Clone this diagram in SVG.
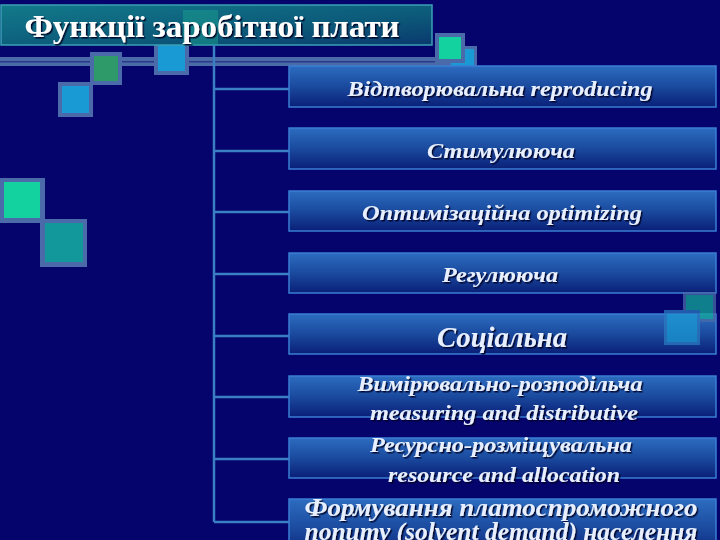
<svg xmlns="http://www.w3.org/2000/svg" width="720" height="540" viewBox="0 0 720 540">
<defs>
<linearGradient id="boxg" x1="0" y1="0" x2="0" y2="1">
<stop offset="0" stop-color="#2c6cc0"/>
<stop offset="0.5" stop-color="#1a4a9e"/>
<stop offset="1" stop-color="#0a1f78"/>
</linearGradient>
<linearGradient id="titleg" x1="0" y1="0" x2="1" y2="1">
<stop offset="0" stop-color="#127a8a"/>
<stop offset="0.6" stop-color="#0c5a7a"/>
<stop offset="1" stop-color="#0a3a6e"/>
</linearGradient>
<filter id="sh" x="-5%" y="-20%" width="110%" height="140%">
<feDropShadow dx="1.5" dy="1.5" stdDeviation="0.6" flood-color="#000020" flood-opacity="0.9"/>
</filter>
</defs>
<style>
.box{fill:url(#boxg);stroke:#3a7ed4;stroke-width:1.5}
.bt{font-family:"Liberation Serif","DejaVu Serif",serif;font-style:italic;font-weight:bold;font-size:22px;fill:#e8f0ff;text-anchor:middle;filter:url(#sh)}
.con{stroke:#3a7ec4;stroke-width:2.5;fill:none}
.sqo{fill:#4a6aaa}
</style>
<rect width="720" height="540" fill="#05046c"/>

<g id="decor">
<rect x="0" y="57" width="472" height="9" fill="#4a6aa8"/>
<rect x="0" y="61" width="472" height="1.5" fill="#2a3a8a"/>
<rect x="90" y="52" width="32" height="33" class="sqo"/>
<rect x="94" y="56" width="24" height="25" fill="#2e9a6a"/>
<rect x="58" y="82" width="35" height="35" class="sqo"/>
<rect x="62" y="86" width="27" height="27" fill="#1a9ad4"/>
<rect x="154" y="43" width="35" height="32" class="sqo"/>
<rect x="158" y="45" width="27" height="26" fill="#1a9ad4"/>
<rect x="0" y="178" width="45" height="45" class="sqo"/>
<rect x="4" y="182" width="36" height="36" fill="#14d2a0"/>
<rect x="40" y="219" width="47" height="48" class="sqo"/>
<rect x="45" y="223" width="38" height="39" fill="#12989a"/>
<rect x="448" y="46" width="29" height="28" class="sqo"/>
<rect x="451" y="49" width="23" height="22" fill="#1a9ad4"/>
<rect x="435" y="33" width="30" height="30" class="sqo"/>
<rect x="439" y="37" width="22" height="22" fill="#14d2a0"/>
</g>

<g id="title">
<rect x="1" y="5" width="431" height="40" fill="url(#titleg)" stroke="#3aa0b4" stroke-width="1.5"/>
<rect x="183" y="10" width="35" height="35" fill="#1aa090" opacity="0.5"/>
<text x="212" y="37" font-family="Liberation Serif,serif" font-weight="bold" font-size="31" fill="#ffffff" text-anchor="middle" filter="url(#sh)" textLength="375" lengthAdjust="spacingAndGlyphs">Функції заробітної плати</text>
</g>

<g id="connectors">
<line class="con" x1="214" y1="45" x2="214" y2="522"/>
<line class="con" x1="214" y1="89" x2="289" y2="89"/>
<line class="con" x1="214" y1="151" x2="289" y2="151"/>
<line class="con" x1="214" y1="212" x2="289" y2="212"/>
<line class="con" x1="214" y1="274" x2="289" y2="274"/>
<line class="con" x1="214" y1="336" x2="289" y2="336"/>
<line class="con" x1="214" y1="397" x2="289" y2="397"/>
<line class="con" x1="214" y1="459" x2="289" y2="459"/>
<line class="con" x1="214" y1="522" x2="289" y2="522"/>
</g>

<g id="n1"><rect class="box" x="289" y="66" width="427" height="41"/><text class="bt" x="500" y="96" textLength="305" lengthAdjust="spacingAndGlyphs">Відтворювальна reproducing</text></g>
<g id="n2"><rect class="box" x="289" y="128" width="427" height="41"/><text class="bt" x="501" y="158" textLength="148" lengthAdjust="spacingAndGlyphs">Стимулююча</text></g>
<g id="n3"><rect class="box" x="289" y="191" width="427" height="40"/><text class="bt" x="502" y="220" textLength="280" lengthAdjust="spacingAndGlyphs">Оптимізаційна  optimizing</text></g>
<g id="n4"><rect class="box" x="289" y="253" width="427" height="40"/><text class="bt" x="500" y="282" textLength="116" lengthAdjust="spacingAndGlyphs">Регулююча</text></g>
<g id="n5"><rect class="box" x="289" y="314" width="427" height="40"/><text class="bt" x="502" y="347" style="font-size:29px" textLength="130" lengthAdjust="spacingAndGlyphs">Соціальна</text></g>
<g id="n6"><rect class="box" x="289" y="376" width="427" height="41"/><text class="bt" x="500" y="391" textLength="285" lengthAdjust="spacingAndGlyphs">Вимірювально-розподільча</text><text class="bt" x="504" y="420" textLength="268" lengthAdjust="spacingAndGlyphs">measuring and distributive</text></g>
<g id="n7"><rect class="box" x="289" y="438" width="427" height="40"/><text class="bt" x="501" y="452" textLength="262" lengthAdjust="spacingAndGlyphs">Ресурсно-розміщувальна</text><text class="bt" x="504" y="482" textLength="232" lengthAdjust="spacingAndGlyphs">resource and allocation</text></g>
<g id="n8"><rect class="box" x="289" y="499" width="427" height="60"/><text class="bt" x="501" y="516" style="font-size:25px" textLength="393" lengthAdjust="spacingAndGlyphs">Формування платоспроможного</text><text class="bt" x="501" y="540" style="font-size:25px" textLength="393" lengthAdjust="spacingAndGlyphs">попиту (solvent demand) населення</text></g>

<g id="decor2" opacity="0.75">
<rect x="683" y="292" width="33" height="30" fill="#4a6aaa"/>
<rect x="686" y="295" width="27" height="24" fill="#14a898"/>
<rect x="664" y="310" width="36" height="35" fill="#2a7ac0"/>
<rect x="667" y="314" width="30" height="28" fill="#1a9ad4"/>
</g>
</svg>
